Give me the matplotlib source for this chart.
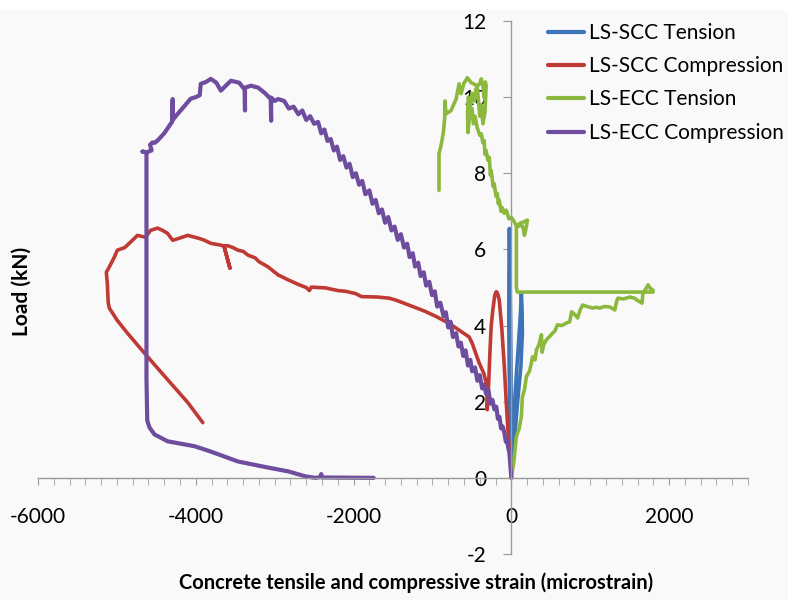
import matplotlib
matplotlib.use("Agg")
import matplotlib.pyplot as plt
from matplotlib.ticker import MultipleLocator
from matplotlib.patches import Rectangle

plt.rcParams['font.family'] = ['Lato', 'DejaVu Sans']
plt.rcParams['axes.unicode_minus'] = False

# LS-SCC Tension (strain, load)
scc_t_x = [0, -10, -20, -28, -32, -30, -25, -18, -10, -5, 0, 10, 30, 60, 90, 115, 127, 135, 140, 120, 80, 40, 10]
scc_t_y = [0, 0.8, 1.8, 3.0, 4.2, 5.4, 6.55, 5.6, 4.2, 3.0, 1.5, 0.9, 1.6, 2.6, 3.5, 4.3, 4.85, 4.5, 3.8, 2.9, 2.0, 1.0, 0.5]

# LS-SCC Compression
scc_c_x = [0, -13, -38, -65, -89, -120, -153, -175, -191, -210, -235, -255, -270, -285, -300, -306,
           -310, -306, -350, -408, -497, -535, -662, -790, -955, -1100, -1300, -1465, -1550, -1700,
           -1898, -1975, -2100, -2200, -2357, -2450, -2535, -2560, -2600, -2700, -2828, -2956, -3083,
           -3200, -3249, -3338, -3400, -3465, -3530, -3600, -3643, -3567, -3643, -3700, -3809, -3900,
           -3975, -4102, -4200, -4293, -4357, -4420, -4485, -4574, -4637, -4739, -4828, -4900, -4994,
           -5032, -5096, -5134, -5121, -5110, -5096, -5000, -4866, -4611, -4357, -4102, -3911]
scc_c_y = [0, 0.56, 1.09, 2.0, 2.93, 3.9, 4.67, 4.85, 4.89, 4.8, 4.4, 4.0, 3.36, 2.6, 1.95, 1.79,
           2.2, 2.4, 2.75, 3.02, 3.54, 3.7, 3.88, 4.06, 4.24, 4.38, 4.54, 4.67, 4.72, 4.75,
           4.76, 4.84, 4.9, 4.92, 4.99, 5.0, 5.01, 4.92, 5.0, 5.08, 5.2, 5.33, 5.54,
           5.68, 5.78, 5.85, 5.95, 5.98, 6.05, 6.1, 6.09, 5.51, 6.09, 6.12, 6.16, 6.25,
           6.3, 6.37, 6.3, 6.24, 6.42, 6.5, 6.56, 6.5, 6.32, 6.37, 6.19, 6.05, 5.98,
           5.8, 5.54, 5.4, 5.1, 4.6, 4.46, 4.15, 3.8, 3.18, 2.58, 1.98, 1.45]

# LS-ECC Tension
ecc_t_x = [0, 30, 64, 100, 127, 140, 165, 191, 230, 255, 268, 300, 318, 350, 382, 390, 410, 446, 480,
           522, 550, 586, 640, 700, 740, 764, 800, 841, 870, 904, 960, 1032, 1080, 1121, 1180, 1248,
           1312, 1330, 1350, 1420, 1503, 1560, 1592, 1656, 1669, 1700, 1733, 1760, 1796, 1796,
           75, 64, 64, 100, 140, 204, 190, 166, 150, 120, 64, 30, 0, -30, -64, -90, -115, -130,
           -153, -165, -178, -195, -217, -230, -255, -265, -280, -300, -319, -335, -344, -360, -382,
           -400, -433, -460, -480, -500, -520, -535, -550, -555, -545, -520, -500, -470, -450, -430,
           -400, -382, -360, -344, -330, -319, -335, -360, -380, -400, -433, -480, -510, -535, -560,
           -580, -599, -637, -662, -700, -764, -828, -841, -845, -860, -879, -900, -917, -917]
ecc_t_y = [0, 0.4, 1.09, 1.3, 1.61, 2.13, 2.3, 2.66, 2.8, 3.02, 3.18, 3.1, 3.36, 3.5, 3.76, 3.3, 3.5, 3.63, 3.7,
           3.8, 3.85, 4.02, 4.0, 4.07, 4.1, 4.36, 4.3, 4.2, 4.4, 4.54, 4.5, 4.46, 4.48, 4.46, 4.5, 4.49,
           4.41, 4.6, 4.72, 4.7, 4.75, 4.72, 4.67, 4.59, 4.85, 4.95, 5.07, 4.98, 4.93, 4.88,
           4.88, 5.0, 6.58, 6.62, 6.71, 6.77, 6.6, 6.37, 6.55, 6.7, 6.62, 6.75, 6.84, 6.8, 7.03, 6.95, 7.1, 7.0,
           7.29, 7.2, 7.47, 7.4, 7.73, 7.65, 8.07, 7.95, 8.42, 8.35, 8.6, 8.5, 8.86, 8.8, 9.04,
           9.0, 9.2, 9.5, 9.3, 9.7, 9.5, 9.38, 9.07, 9.6, 10.0, 9.72, 10.1, 9.9, 10.2, 10.3,
           10.35, 10.48, 10.3, 9.99, 10.4, 10.3, 9.6, 9.3, 9.8, 9.5, 10.3, 10.35, 10.38, 10.45, 10.51,
           10.42, 10.38, 10.09, 10.35, 9.95, 9.65, 9.56, 9.9, 9.45, 9.1, 8.86, 8.65, 8.52, 7.55]

# LS-ECC Compression
ecc_c_x = [0, -15, -25, -40, -55, -70, -89, -110, -130, -150, -170, -191, -215, -240, -265, -290, -319,
           -345, -370, -400, -430, -460, -497, -520, -550, -580, -610, -640, -670, -700, -740, -770,
           -800, -830, -860, -900, -940, -970, -1006, -1040, -1080, -1110, -1150, -1180, -1220, -1250,
           -1290, -1320, -1360, -1400, -1440, -1480, -1520, -1560, -1600, -1640, -1680, -1720, -1760,
           -1800, -1850, -1890, -1930, -1970, -2010, -2050, -2090, -2130, -2170, -2210, -2250, -2290,
           -2330, -2370, -2410, -2450, -2500, -2550, -2600, -2650, -2700, -2760, -2820, -2880, -2956,
           -3000, -3045, -3045, -3050, -3120, -3210, -3300, -3376, -3376, -3380, -3450, -3555, -3620,
           -3682, -3740, -3810, -3870, -3937, -3950, -4000, -4064, -4150, -4230, -4293, -4293, -4300,
           -4318, -4400, -4485, -4520, -4548, -4580, -4560, -4625, -4675, -4625, -4625, -4615, -4586,
           -4523, -4357, -4013, -3809, -3465, -3083, -2828, -2612, -2484, -2420, -2410, -2400, -1745]
ecc_c_y = [0, 0.4, 0.67, 0.8, 1.0, 0.95, 1.19, 1.35, 1.3, 1.6, 1.55, 1.87, 1.8, 2.05, 1.95, 2.3, 2.2,
           2.45, 2.35, 2.7, 2.55, 2.9, 2.8, 3.1, 2.95, 3.35, 3.2, 3.55, 3.45, 3.8, 3.7, 4.1,
           3.95, 4.35, 4.25, 4.6, 4.5, 4.9, 4.8, 5.15, 5.05, 5.4, 5.3, 5.65, 5.55, 5.9,
           5.8, 6.15, 6.05, 6.4, 6.25, 6.6, 6.5, 6.85, 6.7, 7.05, 6.95, 7.3, 7.2,
           7.55, 7.45, 7.8, 7.7, 8.0, 7.9, 8.25, 8.15, 8.45, 8.35, 8.7, 8.6, 8.9,
           8.85, 9.15, 9.05, 9.35, 9.3, 9.5, 9.4, 9.65, 9.55, 9.75, 9.7, 9.9, 9.95,
           9.9, 9.99, 9.38, 9.95, 10.1, 10.25, 10.3, 10.25, 9.65, 10.2, 10.38, 10.43, 10.3,
           10.17, 10.38, 10.48, 10.4, 10.35, 10.05, 10.0, 9.96, 9.75, 9.56, 9.4, 9.95, 9.35,
           9.3, 9.05, 8.86, 8.8, 8.81, 8.75, 8.6, 8.55, 8.57, 8.55, 2.6, 1.5, 1.32,
           1.14, 0.96, 0.83, 0.69, 0.43, 0.27, 0.17, 0.04, 0.0, 0.02, 0.1, 0.01, 0.0]

labels = ['LS-SCC Tension', 'LS-SCC Compression', 'LS-ECC Tension', 'LS-ECC Compression']
colors = ['#3c73b9', '#bf3a34', '#8cb83e', '#6e4d9e']
widths = [2.6, 2.6, 2.6, 3.0]

fig = plt.figure(figsize=(7.88, 6), dpi=100, facecolor='#f9f9f9')
fig.patches.append(Rectangle((0, 0.983), 1, 0.017, transform=fig.transFigure,
                             facecolor='white', edgecolor='none', zorder=-1))
ax = fig.add_axes([38 / 788, 1 - 554 / 600, 710 / 788, 533 / 600])
ax.set_facecolor('none')

series = [(scc_t_x, scc_t_y), (scc_c_x, scc_c_y), (ecc_t_x, ecc_t_y), (ecc_c_x, ecc_c_y)]
for (xs, ys), lab, c, w in zip(series, labels, colors, widths):
    ax.plot(xs, ys, color=c, lw=w, label=lab, solid_joinstyle='round', solid_capstyle='round')

ax.set_xlim(-6000, 3000)
ax.set_ylim(-2, 12)
for s in ['top', 'right']:
    ax.spines[s].set_visible(False)
ax.spines['left'].set_position(('data', 0))
ax.spines['bottom'].set_position(('data', 0))
for s in ['left', 'bottom']:
    ax.spines[s].set_color('#9a9a9a')
    ax.spines[s].set_linewidth(1.0)

ax.xaxis.set_major_locator(MultipleLocator(2000))
ax.xaxis.set_minor_locator(MultipleLocator(200))
ax.yaxis.set_major_locator(MultipleLocator(2))
ax.tick_params(axis='x', which='both', direction='out', length=5, color='#9a9a9a',
               labelsize=15, pad=16)
ax.tick_params(axis='y', which='major', direction='out', length=6, color='#9a9a9a',
               labelsize=15, pad=12)
ax.xaxis.set_ticks_position('bottom')
ax.yaxis.set_ticks_position('left')

leg = fig.legend(loc='upper left', bbox_to_anchor=(548 / 788, 0.962), frameon=False,
                 fontsize=15, handlelength=1.75, handletextpad=0.2, labelspacing=0.64,
                 borderpad=0, borderaxespad=0)
for h in leg.get_lines():
    h.set_linewidth(3.0)

fig.text(0.528, 0.028, 'Concrete tensile and compressive strain (microstrain)',
         ha='center', va='center', fontsize=14.5, fontweight='bold')
fig.text(0.028, 0.515, 'Load (kN)', ha='center', va='center', rotation=90,
         fontsize=15, fontweight='bold')

fig.savefig('out.png', dpi=100, facecolor=fig.get_facecolor())
